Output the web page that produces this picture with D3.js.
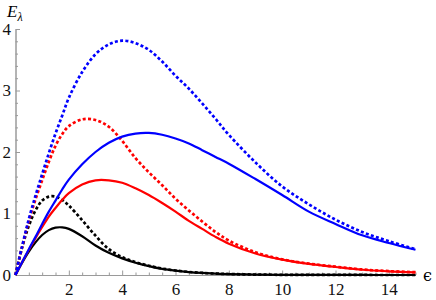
<!DOCTYPE html>
<html>
<head>
<meta charset="utf-8">
<script src="https://cdn.jsdelivr.net/npm/d3@7"></script>
<style>
  body { margin: 0; background: #fff; }
  svg { display: block; }
</style>
</head>
<body>
<svg width="436" height="300"></svg>
<script>
var eps = [0, 0.25, 0.5, 0.75, 1, 1.25, 1.5, 1.75, 2, 2.5, 3, 3.5, 4, 4.5, 5, 5.5, 6, 6.5, 7, 7.5, 8, 9, 10, 11, 12, 13, 14, 15];

var blackSolid = [0, 0.20, 0.38, 0.53, 0.65, 0.73, 0.77, 0.775, 0.75, 0.63, 0.48, 0.36, 0.27, 0.20, 0.145, 0.10, 0.07, 0.048, 0.033, 0.022, 0.015, 0.007, 0.003, 0.0015, 0.001, 0.0005, 0.0003, 0.0002];
var blackDashed = [0, 0.45, 0.80, 1.05, 1.21, 1.275, 1.275, 1.22, 1.13, 0.89, 0.64, 0.42, 0.29, 0.21, 0.15, 0.105, 0.073, 0.05, 0.034, 0.023, 0.016, 0.007, 0.003, 0.0015, 0.001, 0.0005, 0.0003, 0.0002];
var redSolid = [0, 0.21, 0.41, 0.60, 0.78, 0.95, 1.09, 1.22, 1.33, 1.47, 1.54, 1.54, 1.50, 1.41, 1.30, 1.17, 1.03, 0.88, 0.75, 0.62, 0.51, 0.35, 0.25, 0.18, 0.13, 0.085, 0.06, 0.044];
var redDashed = [0, 0.46, 0.88, 1.23, 1.54, 1.84, 2.10, 2.29, 2.42, 2.53, 2.52, 2.41, 2.18, 1.90, 1.67, 1.46, 1.24, 1.05, 0.87, 0.70, 0.56, 0.37, 0.255, 0.185, 0.135, 0.09, 0.063, 0.046];
var blueSolid = [0, 0.21, 0.42, 0.62, 0.83, 1.03, 1.21, 1.39, 1.55, 1.80, 2.00, 2.15, 2.25, 2.30, 2.31, 2.28, 2.22, 2.14, 2.03, 1.92, 1.81, 1.56, 1.30, 1.03, 0.83, 0.645, 0.52, 0.41];
var blueDashed = [0, 0.47, 0.91, 1.29, 1.64, 1.98, 2.30, 2.59, 2.88, 3.30, 3.59, 3.75, 3.81, 3.77, 3.66, 3.47, 3.24, 3.03, 2.79, 2.54, 2.28, 1.83, 1.44, 1.15, 0.90, 0.70, 0.55, 0.42];

var xTicks = [2, 4, 6, 8, 10, 12, 14];
var yTicks = [0, 1, 2, 3, 4];

var series = [
    {values: blackSolid, color: "#000", dashed: false},
    {values: blackDashed, color: "#000", dashed: true},
    {values: redSolid, color: "#ff0000", dashed: false},
    {values: redDashed, color: "#ff0000", dashed: true},
    {values: blueSolid, color: "#0000ff", dashed: false},
    {values: blueDashed, color: "#0000ff", dashed: true}
];

var serif = "'Liberation Serif', 'Times New Roman', 'DejaVu Serif', serif";

var svg = d3.select("svg");

var x = d3.scaleLinear().domain([0, 15]).range([15.5, 415.5]);
var y = d3.scaleLinear().domain([0, 4]).range([275, 29]);

var minorX = d3.range(0.5, 15.01, 0.5).filter(function(d) { return d % 2 !== 0; });
var minorY = d3.range(0.2, 4, 0.2).filter(function(d) { return Math.abs(d - Math.round(d)) > 0.01; });

var styleAxis = function(g) {
    g.attr("font-family", null).attr("font-size", null);
    g.selectAll("path").style("stroke", "#9a9a9a").style("stroke-width", "1px");
    g.selectAll("line").style("stroke", "#9a9a9a").style("stroke-width", "1px");
    g.selectAll("text")
            .style("font-family", serif)
            .style("font-size", "17px")
            .style("fill", "#111");
};

svg.append("g")
        .attr("transform", "translate(0," + y(0) + ")")
        .call(d3.axisBottom(x).tickValues(minorX).tickSizeInner(-2.5).tickSizeOuter(0).tickFormat(""))
        .call(styleAxis);

svg.append("g")
        .attr("transform", "translate(0," + y(0) + ")")
        .call(d3.axisBottom(x).tickValues(xTicks).tickSizeInner(-4.5).tickSizeOuter(0).tickPadding(7.5).tickFormat(d3.format("d")))
        .call(styleAxis);

svg.append("g")
        .attr("transform", "translate(" + x(0) + ",0)")
        .call(d3.axisLeft(y).tickValues(minorY).tickSizeInner(-2.5).tickSizeOuter(0).tickFormat(""))
        .call(styleAxis);

svg.append("g")
        .attr("transform", "translate(" + x(0) + ",0)")
        .call(d3.axisLeft(y).tickValues(yTicks).tickSizeInner(-4.5).tickSizeOuter(0).tickPadding(4.5).tickFormat(d3.format("d")))
        .call(styleAxis);

var line = d3.line()
        .x(function(d) { return x(d[0]); })
        .y(function(d) { return y(d[1]); })
        .curve(d3.curveCatmullRom.alpha(0.5));

svg.selectAll("path.curve")
        .data(series)
        .enter()
        .append("path")
        .attr("class", "curve")
        .attr("d", function(s) { return line(eps.map(function(e, i) { return [e, s.values[i]]; })); })
        .style("fill", "none")
        .style("stroke", function(s) { return s.color; })
        .style("stroke-width", function(s) { return s.dashed ? "2.7px" : "2.2px"; })
        .style("stroke-dasharray", function(s) { return s.dashed ? "3,2.3" : null; });

var label = svg.append("text")
        .attr("x", 7)
        .attr("y", 17)
        .style("font-family", serif)
        .style("font-style", "italic")
        .style("font-size", "17px");
label.append("tspan").text("E");
label.append("tspan").attr("dy", 4).style("font-size", "12px").text("λ");

svg.append("text")
        .attr("x", 423)
        .attr("y", 281)
        .style("font-family", "'DejaVu Serif', 'Liberation Serif', serif")
        .style("font-size", "16px")
        .text("ϵ");
</script>
</body>
</html>
